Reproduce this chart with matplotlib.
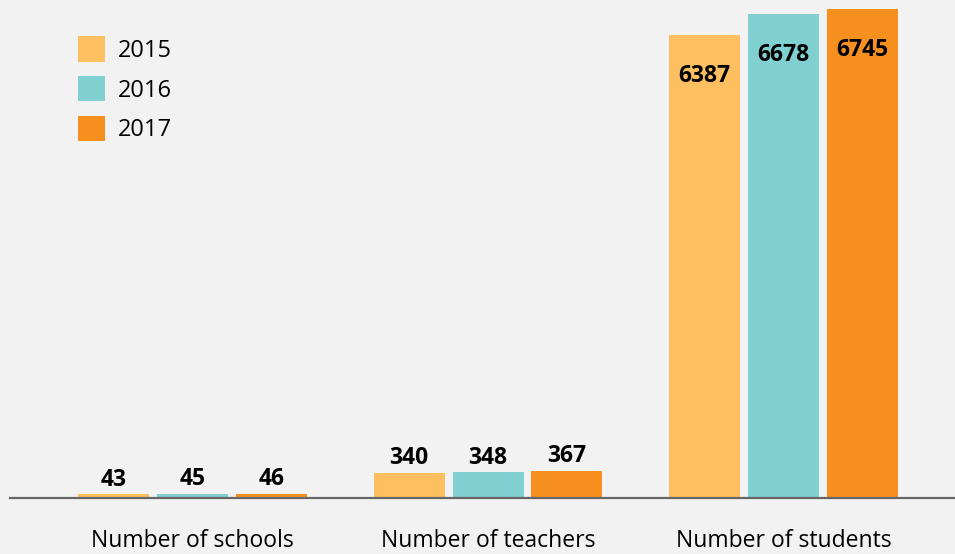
import numpy as np
import matplotlib
matplotlib.use("Agg")
import matplotlib.pyplot as plt

categories = ["Number of schools", "Number of teachers", "Number of students"]
years = ["2015", "2016", "2017"]
values_2015 = [43, 340, 6387]
values_2016 = [45, 348, 6678]
values_2017 = [46, 367, 6745]
colors = ["#fdbf5f", "#80d0d1", "#f7901e"]

plt.rcParams["font.family"] = ["Open Sans", "DejaVu Sans"]

fig = plt.figure(figsize=(9.55, 5.54), dpi=100, facecolor="#f2f2f2")
ax = fig.add_axes([10 / 955, 56.5 / 554, 945 / 955, 497.5 / 554])
ax.set_facecolor("#f2f2f2")

x = np.arange(len(categories))
width = 0.24
step = 0.267
series = [values_2015, values_2016, values_2017]

for i, (vals, year, col) in enumerate(zip(series, years, colors)):
    bars = ax.bar(x + (i - 1) * step, vals, width, color=col, label=year)
    for j, b in enumerate(bars):
        v = vals[j]
        cx = b.get_x() + b.get_width() / 2
        if j == 2:
            # big bars: label sits inside near the top
            ax.annotate(str(v), (cx, v), xytext=(0, -29.5), textcoords="offset points",
                        ha="center", va="center", fontsize=16.5, fontweight="bold")
        else:
            ax.annotate(str(v), (cx, v), xytext=(0, 2), textcoords="offset points",
                        ha="center", va="bottom", fontsize=16.5, fontweight="bold")

ax.set_xlim(-0.6176, 2.58)
ax.set_ylim(0, 6869)
ax.set_yticks([])
ax.set_xticks(x)
ax.set_xticklabels(categories, fontsize=16.5)
ax.tick_params(axis="x", length=0, pad=22.5)
for s in ["top", "right", "left"]:
    ax.spines[s].set_visible(False)
ax.spines["bottom"].set_color("#666666")
ax.spines["bottom"].set_linewidth(1.6)

ax.legend(loc="upper left", bbox_to_anchor=(78 / 955, 1 - 36 / 554),
          bbox_transform=fig.transFigure, frameon=False, fontsize=17,
          borderpad=0, borderaxespad=0, handlelength=1.14, handleheight=1.3,
          handletextpad=0.55, labelspacing=0.55)

fig.savefig("out.png", dpi=100, facecolor=fig.get_facecolor())
